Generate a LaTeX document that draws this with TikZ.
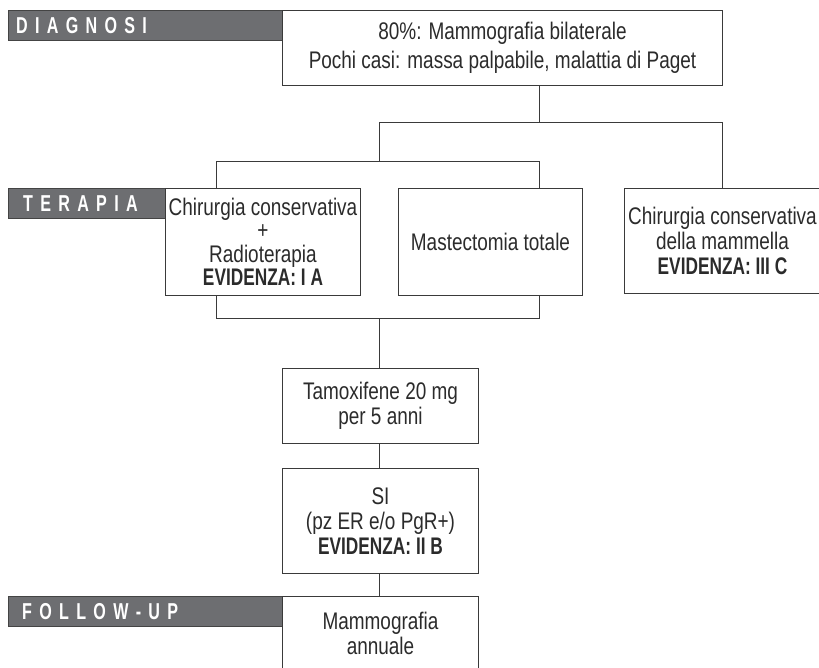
\documentclass[tikz,border=0pt]{standalone}
\usepackage{fontspec}
\setmainfont{Liberation Sans}[FakeStretch=0.79]
\newfontfamily\hdrfont{Liberation Sans}[FakeStretch=0.7]
\newfontfamily\evfont{Liberation Sans}[FakeStretch=0.72]
\definecolor{linec}{HTML}{3A3A3A}
\definecolor{txtc}{HTML}{2B2B2B}
\definecolor{barfill}{HTML}{6D6E71}
\definecolor{barline}{HTML}{444444}
\newcommand\evtxt[1]{{\evfont\bfseries #1}}
\newcommand\tk{\hspace{7.3pt}}
\begin{document}
\begin{tikzpicture}[x=1pt,y=-1pt,
  box/.style={draw=linec, line width=1pt, inner sep=0pt, anchor=north west, align=center, text=txtc, font=\fontsize{24}{25}\selectfont},
  conn/.style={draw=linec, line width=1pt},
  bar/.style={fill=barfill, draw=barline, line width=0.8pt, anchor=north west, inner sep=0pt, minimum height=30pt},
  bartext/.style={text=white, font=\hdrfont\bfseries\fontsize{23}{23}\selectfont, anchor=base west, inner sep=0pt}]
\useasboundingbox (0,0) rectangle (819,667);
% header bars
\node[bar, minimum width=274pt] (bd) at (8,10) {};
\node[bartext] (bdt) at (16,33) {D\tk I\tk A\tk G\tk N\tk O\tk S\tk I};
\node[bar, minimum width=157pt] (bt) at (8,188) {};
\node[bartext] (btt) at (23,211) {T\tk E\tk R\tk A\tk P\tk I\tk A};
\node[bar, minimum width=274pt] (bf) at (8,596) {};
\node[bartext] (bft) at (22,619) {F\tk O\tk L\tk L\tk O\tk W\tk -\tk U\tk P};
% boxes
\node[box, minimum width=440pt, minimum height=75pt, font=\fontsize{24}{29}\selectfont] (top) at (282,10)
  {80\%: Mammografia bilaterale\\Pochi casi: massa palpabile, malattia di Paget};
\node[box, minimum width=195pt, minimum height=107pt, font=\fontsize{24}{23.5}\selectfont] (boxL) at (165,188)
  {Chirurgia conservativa\\+\\Radioterapia\\\evtxt{EVIDENZA: I A}};
\node[box, minimum width=184pt, minimum height=107pt] (boxM) at (398,188)
  {Mastectomia totale};
\node[box, minimum width=196pt, minimum height=105pt] (boxR) at (624,188)
  {Chirurgia conservativa\\della mammella\\\evtxt{EVIDENZA: III C}};
\node[box, minimum width=196pt, minimum height=75pt] (tam) at (282,368)
  {Tamoxifene 20 mg\\per 5 anni};
\node[box, minimum width=196pt, minimum height=105pt] (si) at (282,468)
  {SI\\(pz ER e/o PgR+)\\\evtxt{EVIDENZA: II B}};
\node[box, minimum width=196pt, minimum height=74pt] (fu) at (282,596)
  {Mammografia\\annuale};
% junctions
\coordinate (jtop) at (539,122);
\coordinate (jl) at (379,122);
\coordinate (jr) at (722,122);
\coordinate (jl2) at (379,161);
\coordinate (ja) at (216,161);
\coordinate (jb) at (539,161);
\coordinate (jc) at (216,318);
\coordinate (jd) at (539,318);
\coordinate (je) at (379,318);
% connectors
\draw[conn] (top.south -| jtop) -- (jtop);
\draw[conn] (jl) -- (jr);
\draw[conn] (jl) -- (jl2);
\draw[conn] (jr) -- (boxR.north -| jr);
\draw[conn] (ja) -- (jb);
\draw[conn] (ja) -- (boxL.north -| ja);
\draw[conn] (jb) -- (boxM.north -| jb);
\draw[conn] (boxL.south -| jc) -- (jc) -- (jd) -- (boxM.south -| jd);
\draw[conn] (je) -- (tam.north -| je);
\draw[conn] (tam.south -| je) -- (si.north -| je);
\draw[conn] (si.south -| je) -- (fu.north -| je);
\end{tikzpicture}
\end{document}
